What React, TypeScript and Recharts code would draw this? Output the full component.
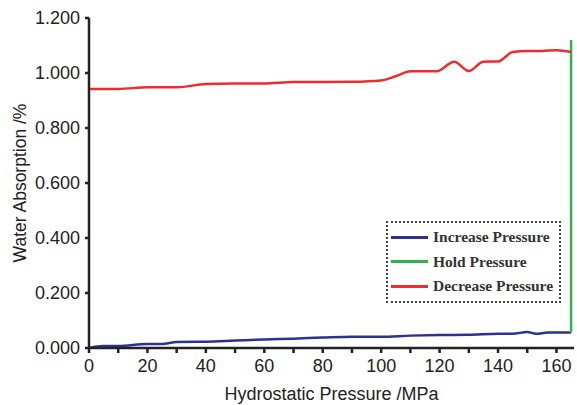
import { LineChart, Line, XAxis, YAxis, Label } from 'recharts'

// Water absorption vs hydrostatic pressure
const increaseX = [0, 5, 10, 20, 25, 30, 40, 50, 60, 70, 80, 90, 100, 110, 120, 130, 140, 145, 150, 153, 157, 165]
const increaseY = [0.0, 0.007, 0.007, 0.015, 0.015, 0.022, 0.023, 0.027, 0.031, 0.034, 0.038, 0.041, 0.041, 0.045, 0.047, 0.048, 0.052, 0.052, 0.058, 0.052, 0.056, 0.056]

const holdX = [165, 165]
const holdY = [0.056, 1.12]

const decreaseX = [0, 10, 20, 30, 40, 50, 60, 70, 80, 90, 100, 105, 110, 119, 125, 130, 135, 140, 145, 150, 155, 160, 165]
const decreaseY = [0.942, 0.942, 0.948, 0.948, 0.96, 0.962, 0.962, 0.967, 0.967, 0.968, 0.973, 0.988, 1.006, 1.006, 1.041, 1.007, 1.041, 1.042, 1.076, 1.08, 1.08, 1.083, 1.076]

const xTicks = [0, 10, 20, 30, 40, 50, 60, 70, 80, 90, 100, 110, 120, 130, 140, 150, 160]
const yTicks = [0, 0.2, 0.4, 0.6, 0.8, 1.0, 1.2]

const SERIES = [
  { name: 'Increase Pressure', color: '#2e3192' },
  { name: 'Hold Pressure', color: '#2fb351' },
  { name: 'Decrease Pressure', color: '#ef2b2b' },
]

const toRows = (xs: number[], ys: number[]) => xs.map((x, i) => ({ x, y: ys[i] }))

const increaseData = toRows(increaseX, increaseY)
const holdData = toRows(holdX, holdY)
const decreaseData = toRows(decreaseX, decreaseY)

const FONT = 'Liberation Sans, Arial, sans-serif'
const tickStyle = { fill: '#222', fontSize: 18, fontFamily: FONT }

function LegendBox() {
  return (
    <div
      style={{
        position: 'absolute',
        left: 386,
        top: 221,
        width: 168,
        border: '2px dotted #444',
        padding: '2px 0 2px 3px',
        background: '#fff',
        fontFamily: '"Liberation Serif", "Times New Roman", serif',
        fontWeight: 'bold',
        fontSize: 15.5,
        color: '#333',
      }}
    >
      {SERIES.map((s) => (
        <div key={s.name} style={{ display: 'flex', alignItems: 'center', height: 24.5 }}>
          <span style={{ display: 'inline-block', width: 37, height: 3, background: s.color, marginRight: 5 }} />
          <span>{s.name}</span>
        </div>
      ))}
    </div>
  )
}

export default function App() {
  return (
    <div style={{ position: 'fixed', left: 0, top: 0, background: '#fff', width: 577, height: 405, overflow: 'hidden' }}>
      <style>{'html, body { margin: 0; padding: 0; overflow: hidden; }'}</style>
      <LineChart width={577} height={405} margin={{ top: 18, right: 3, bottom: 0, left: 0 }}>
        <XAxis
          dataKey="x"
          type="number"
          domain={[0, 166]}
          ticks={xTicks}
          tickFormatter={(v: number) => (v % 20 === 0 ? String(v) : '')}
          height={57}
          stroke="#222"
          strokeWidth={2.5}
          tickSize={5}
          tickMargin={6}
          tick={tickStyle}
        >
          <Label
            content={({ viewBox }: any) => (
              <text
                x={viewBox.x + viewBox.width / 2}
                y={viewBox.y + viewBox.height - 5}
                textAnchor="middle"
                style={{ fill: '#222', fontSize: 18, fontFamily: FONT }}
              >
                Hydrostatic Pressure /MPa
              </text>
            )}
          />
        </XAxis>
        <YAxis
          type="number"
          domain={[0, 1.2]}
          ticks={yTicks}
          tickFormatter={(v: number) => v.toFixed(3)}
          width={89}
          stroke="#222"
          strokeWidth={2.5}
          tickSize={4}
          tickMargin={5}
          tick={tickStyle}
        >
          <Label
            content={({ viewBox }: any) => {
              const cx = viewBox.x + 20
              const cy = viewBox.y + viewBox.height / 2
              return (
                <text
                  x={cx}
                  y={cy}
                  transform={`rotate(-90, ${cx}, ${cy})`}
                  textAnchor="middle"
                  dominantBaseline="central"
                  style={{ fill: '#222', fontSize: 17.5, fontFamily: FONT }}
                >
                  Water Absorption /%
                </text>
              )
            }}
          />
        </YAxis>
        <Line
          data={increaseData}
          dataKey="y"
          name={SERIES[0].name}
          type="monotone"
          stroke={SERIES[0].color}
          strokeWidth={2.5}
          dot={false}
          isAnimationActive={false}
        />
        <Line
          data={holdData}
          dataKey="y"
          name={SERIES[1].name}
          type="linear"
          stroke={SERIES[1].color}
          strokeWidth={2.5}
          dot={false}
          isAnimationActive={false}
        />
        <Line
          data={decreaseData}
          dataKey="y"
          name={SERIES[2].name}
          type="monotone"
          stroke={SERIES[2].color}
          strokeWidth={2.5}
          dot={false}
          isAnimationActive={false}
        />
      </LineChart>
      <LegendBox />
    </div>
  )
}
